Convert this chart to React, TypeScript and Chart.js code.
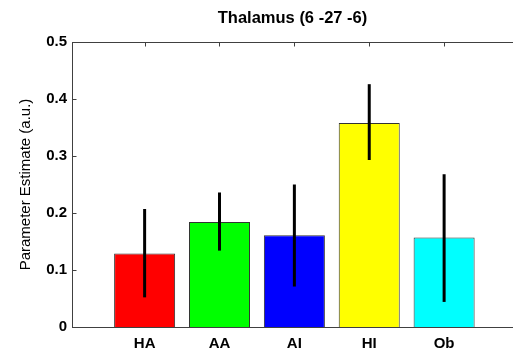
import React, { useEffect, useRef } from "react";
import { Chart, registerables } from "chart.js";

Chart.register(...registerables);

const categories = ["HA", "AA", "AI", "HI", "Ob"];
const positions = [1, 2, 3, 4, 5];
const means = [0.129, 0.184, 0.161, 0.358, 0.157];
const errLow = [0.052, 0.134, 0.071, 0.293, 0.044];
const errHigh = [0.207, 0.236, 0.25, 0.426, 0.268];
const barColors = ["#ff0000", "#00ff00", "#0000ff", "#ffff00", "#00ffff"];
const yTicks = [0, 0.1, 0.2, 0.3, 0.4, 0.5];

const FONT = "'Liberation Sans', Arial, Helvetica, sans-serif";
const FRAME = "#404040";

const errorBarPlugin = {
  id: "errorBars",
  afterDatasetsDraw(chart: any) {
    const { ctx, scales } = chart;
    const xs = scales.x;
    const ys = scales.y;
    ctx.save();
    ctx.strokeStyle = "#000";
    ctx.lineWidth = 3;
    ctx.lineCap = "butt";
    positions.forEach((p, i) => {
      const x = xs.getPixelForValue(p);
      ctx.beginPath();
      ctx.moveTo(x, ys.getPixelForValue(errLow[i]));
      ctx.lineTo(x, ys.getPixelForValue(errHigh[i]));
      ctx.stroke();
    });
    ctx.restore();
  },
};

const framePlugin = {
  id: "frame",
  afterDraw(chart: any) {
    const { ctx, chartArea, scales } = chart;
    const { left, right, top, bottom } = chartArea;
    ctx.save();
    ctx.strokeStyle = FRAME;
    ctx.lineWidth = 1;
    ctx.beginPath();
    ctx.moveTo(left + 0.5, top + 0.5);
    ctx.lineTo(left + 0.5, bottom + 0.5);
    ctx.moveTo(left, bottom + 0.5);
    ctx.lineTo(right, bottom + 0.5);
    ctx.moveTo(left, top + 0.5);
    ctx.lineTo(right, top + 0.5);
    yTicks.forEach((v) => {
      const y = Math.round(scales.y.getPixelForValue(v)) + 0.5;
      ctx.moveTo(left + 0.5, y);
      ctx.lineTo(left + 4.5, y);
    });
    positions.forEach((p) => {
      const x = Math.round(scales.x.getPixelForValue(p)) + 0.5;
      ctx.moveTo(x, top + 0.5);
      ctx.lineTo(x, top + 4.5);
    });
    ctx.stroke();
    ctx.restore();
  },
};

export default function App() {
  const ref = useRef<HTMLCanvasElement | null>(null);

  useEffect(() => {
    document.body.style.margin = "0";
    const canvas = ref.current;
    if (!canvas) return;
    const chart = new Chart(canvas, {
      type: "bar",
      data: {
        datasets: [
          {
            data: positions.map((p, i) => ({ x: p, y: means[i] })),
            backgroundColor: barColors,
            borderColor: "#333333",
            borderWidth: 1,
            barPercentage: 0.815,
            categoryPercentage: 1,
          },
        ],
      },
      options: {
        responsive: false,
        animation: false,
        layout: { padding: 0 },
        plugins: {
          legend: { display: false },
          tooltip: { enabled: false },
          title: {
            display: true,
            text: "Thalamus (6 -27 -6)",
            color: "#000",
            font: { family: FONT, size: 16.5, weight: "bold" },
            padding: { top: 8.5, bottom: 13.7 },
            fullSize: false,
          },
        },
        scales: {
          x: {
            type: "linear",
            min: 0.03,
            max: 5.92,
            bounds: "data",
            offset: false,
            grid: { display: false, drawTicks: false, offset: false },
            border: { display: false },
            ticks: {
              color: "#000",
              font: { family: FONT, size: 15, weight: "bold" },
              padding: 8,
              autoSkip: false,
              maxRotation: 0,
              callback: (v: any) => {
                const i = positions.indexOf(Number(v));
                return i >= 0 ? categories[i] : "";
              },
            },
            afterBuildTicks(s: any) {
              s.ticks = positions.map((v) => ({ value: v }));
            },
            afterFit(s: any) {
              s.height = 27;
            },
          },
          y: {
            min: 0,
            max: 0.5,
            grid: { display: false, drawTicks: false },
            border: { display: false },
            ticks: {
              color: "#000",
              font: { family: FONT, size: 15, weight: "bold" },
              padding: 5,
              callback: (v: any) => String(v),
            },
            title: {
              display: true,
              text: "Parameter Estimate (a.u.)",
              color: "#000",
              font: { family: FONT, size: 15 },
              padding: { top: 16.5, bottom: 0 },
            },
            afterBuildTicks(s: any) {
              s.ticks = yTicks.map((v) => ({ value: v }));
            },
            afterFit(s: any) {
              s.width = 72;
            },
          },
        },
      },
      plugins: [errorBarPlugin, framePlugin],
    } as any);
    return () => chart.destroy();
  }, []);

  return (
    <canvas
      ref={ref}
      width={513}
      height={354}
      style={{ display: "block", width: 513, height: 354 }}
    />
  );
}
